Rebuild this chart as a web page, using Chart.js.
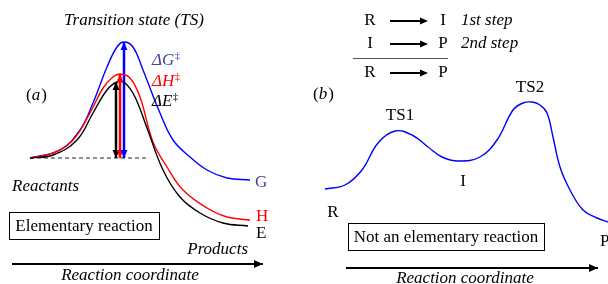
<!DOCTYPE html>
<html>
<head>
<meta charset="utf-8">
<script src="https://cdn.jsdelivr.net/npm/chart.js@4/dist/chart.umd.min.js"></script>
<style>
  html, body { margin: 0; padding: 0; background: #fff; }
  #wrap { position: relative; width: 608px; height: 284px; overflow: hidden; }
  canvas { position: absolute; top: 0; }
  #panelA { left: 0; }
  #panelB { left: 300px; }
</style>
</head>
<body>
<div id="wrap">
  <canvas id="panelA" width="300" height="284"></canvas>
  <canvas id="panelB" width="308" height="284"></canvas>
</div>
<script>
// Panel (a): one elementary step, energy relative to reactants
const coordG  = [0, 15, 25, 31.5, 38.5, 43.5, 47, 51.5, 56.5, 65, 71.5, 80, 88.5, 98.5, 110];
const energyG = [0, 8, 28, 55, 91, 111, 116, 111, 88, 45, 18, 1, -12, -20, -22];

const coordH  = [0, 11.5, 21.5, 30, 36.5, 41.5, 45, 50, 55, 61.5, 68.5, 76.5, 88.5, 98.5, 110];
const energyH = [0, 5, 18, 45, 70, 81, 84, 80, 61, 16, -9, -32, -50, -59, -62];

const coordE  = [0, 11.5, 23.5, 31.5, 38.5, 43.5, 47.5, 52.5, 58.5, 66.5, 75, 85, 96.5, 109];
const energyE = [0, 3, 18, 45, 68, 76, 75, 61, 30, -12, -39, -55, -65, -68];

// barrier heights (position on the coordinate, height)
const barrierCoord  = { E: 43, H: 45, G: 47 };
const barrierHeight = { E: 76, H: 84, G: 116 };

// Panel (b): two steps through intermediate I
const coordB  = [0, 10, 18.5, 26.5, 35, 43.5, 51.5, 58.5, 66.5, 77.5, 86, 94, 99, 103.5, 107.5, 111, 114, 117.5, 122.5, 129, 136, 141.5];
const energyB = [0, 4, 19, 46, 58, 54, 42, 32, 28, 32, 49, 79, 86, 87, 84, 76, 52, 22, -1, -21, -29, -33];

const serif = "'Liberation Serif', 'DejaVu Serif', serif";
const slate = '#4343a8';

function toXY(xs, ys) {
    return xs.map((x, i) => ({ x: x, y: ys[i] }));
}

function curve(xs, ys, color) {
    return {
        data: toXY(xs, ys),
        borderColor: color,
        borderWidth: 1.4,
        pointRadius: 0,
        tension: 0.4,
        fill: false
    };
}

function arrowLine(x0, y0, x1, y1, color, width, heads) {
    return {
        data: [{ x: x0, y: y0 }, { x: x1, y: y1 }],
        borderColor: color,
        borderWidth: width,
        pointRadius: 0,
        tension: 0,
        fill: false,
        arrowHeads: heads
    };
}

function head(ctx, tx, ty, fx, fy, len, half, color) {
    var a = Math.atan2(ty - fy, tx - fx);
    ctx.save();
    ctx.fillStyle = color;
    ctx.beginPath();
    ctx.moveTo(tx, ty);
    ctx.lineTo(tx - len * Math.cos(a) + half * Math.sin(a), ty - len * Math.sin(a) - half * Math.cos(a));
    ctx.lineTo(tx - len * Math.cos(a) - half * Math.sin(a), ty - len * Math.sin(a) + half * Math.cos(a));
    ctx.closePath();
    ctx.fill();
    ctx.restore();
}

// draws arrow heads on the datasets that ask for them
const arrowPlugin = {
    id: 'arrows',
    afterDatasetsDraw(chart) {
        const ctx = chart.ctx;
        chart.data.datasets.forEach((ds, i) => {
            if (!ds.arrowHeads) return;
            const pts = chart.getDatasetMeta(i).data;
            const p0 = pts[0], p1 = pts[pts.length - 1];
            const len = ds.borderWidth > 2.2 ? 8 : 9;
            const half = ds.borderWidth > 2.2 ? 3.5 : 4;
            head(ctx, p1.x, p1.y, p0.x, p0.y, len, half, ds.borderColor);
            if (ds.arrowHeads === 'both') head(ctx, p0.x, p0.y, p1.x, p1.y, len, half, ds.borderColor);
        });
    }
};

function txt(ctx, s, x, y, opts) {
    opts = opts || {};
    ctx.save();
    ctx.font = (opts.italic ? 'italic ' : '') + (opts.size || 17) + 'px ' + serif;
    ctx.fillStyle = opts.color || '#000';
    ctx.textAlign = opts.align || 'left';
    ctx.textBaseline = 'middle';
    ctx.fillText(s, x, y);
    var w = ctx.measureText(s).width;
    ctx.restore();
    return w;
}

// Δ symbol with a double dagger as superscript
function delta(ctx, letter, x, y, color) {
    var w = txt(ctx, '\u0394' + letter, x, y, { italic: true, color: color });
    txt(ctx, '\u2021', x + w + 0.5, y - 5, { size: 11, color: color });
}

function panelLabel(ctx, letter, x, y) {
    var w = txt(ctx, '(', x, y);
    w += txt(ctx, letter, x + w, y, { italic: true });
    txt(ctx, ')', x + w + 1, y);
}

function box(ctx, x, y, w, h, s) {
    ctx.save();
    ctx.strokeStyle = '#000';
    ctx.lineWidth = 1;
    ctx.strokeRect(x + 0.5, y + 0.5, w, h);
    ctx.restore();
    txt(ctx, s, x + w / 2, y + h / 2 + 1, { align: 'center' });
}

function stepArrow(ctx, x0, x1, y) {
    ctx.save();
    ctx.strokeStyle = '#000';
    ctx.lineWidth = 2;
    ctx.beginPath();
    ctx.moveTo(x0, y);
    ctx.lineTo(x1 - 5, y);
    ctx.stroke();
    ctx.restore();
    head(ctx, x1, y, x0, y, 8, 3.5, '#000');
}

const labelsA = {
    id: 'labelsA',
    afterDraw(chart) {
        const ctx = chart.ctx;
        txt(ctx, 'Transition state (TS)', 134, 21, { italic: true, align: 'center' });
        panelLabel(ctx, 'a', 26, 96);
        delta(ctx, 'G', 152, 61, slate);
        delta(ctx, 'H', 152, 82, '#ff0000');
        delta(ctx, 'E', 152, 102, '#000');
        txt(ctx, 'Reactants', 12, 187, { italic: true });
        txt(ctx, 'G', 255, 183, { color: slate });
        txt(ctx, 'H', 256, 217, { color: '#ff0000' });
        txt(ctx, 'E', 256, 234);
        box(ctx, 9, 212, 150, 27, 'Elementary reaction');
        txt(ctx, 'Products', 248, 250, { italic: true, align: 'right' });
        txt(ctx, 'Reaction coordinate', 130, 276, { italic: true, align: 'center' });
    }
};

const labelsB = {
    id: 'labelsB',
    afterDraw(chart) {
        const ctx = chart.ctx;
        var rows = [['R', 'I', '1st step', 21], ['I', 'P', '2nd step', 44], ['R', 'P', '', 73]];
        rows.forEach(r => {
            txt(ctx, r[0], 70, r[3], { align: 'center' });
            stepArrow(ctx, 90, 128, r[3]);
            txt(ctx, r[1], 143, r[3], { align: 'center' });
            if (r[2]) txt(ctx, r[2], 161, r[3], { italic: true });
        });
        ctx.save();
        ctx.strokeStyle = '#555';
        ctx.lineWidth = 1;
        ctx.beginPath();
        ctx.moveTo(53, 58.5);
        ctx.lineTo(148, 58.5);
        ctx.stroke();
        ctx.restore();
        panelLabel(ctx, 'b', 13, 95);
        txt(ctx, 'TS1', 100, 116, { align: 'center' });
        txt(ctx, 'TS2', 230, 88, { align: 'center' });
        txt(ctx, 'I', 163, 182, { align: 'center' });
        txt(ctx, 'R', 33, 213, { align: 'center' });
        txt(ctx, 'P', 300, 242);
        box(ctx, 48, 223, 196, 27, 'Not an elementary reaction');
        txt(ctx, 'Reaction coordinate', 165, 279, { italic: true, align: 'center' });
    }
};

function baseOptions(xmin, xmax, ymin, ymax) {
    return {
        responsive: false,
        animation: false,
        layout: { padding: 0 },
        plugins: { legend: { display: false }, tooltip: { enabled: false } },
        scales: {
            x: { type: 'linear', min: xmin, max: xmax, display: false },
            y: { type: 'linear', min: ymin, max: ymax, display: false }
        }
    };
}

const dashed = {
    data: [{ x: 0, y: 0 }, { x: 59, y: 0 }],
    borderColor: '#222',
    borderWidth: 1,
    borderDash: [4, 3],
    pointRadius: 0
};

new Chart(document.getElementById('panelA'), {
    type: 'line',
    data: {
        datasets: [
            dashed,
            curve(coordE, energyE, '#000'),
            curve(coordH, energyH, '#ff0000'),
            curve(coordG, energyG, '#0000ff'),
            arrowLine(barrierCoord.E, 0, barrierCoord.E, barrierHeight.E, '#000', 2.5, 'both'),
            arrowLine(barrierCoord.H, 0, barrierCoord.H, barrierHeight.H, '#ff0000', 2.5, 'both'),
            arrowLine(barrierCoord.G, 0, barrierCoord.G, barrierHeight.G, '#0000ff', 2.5, 'both'),
            arrowLine(-9, -106, 116.5, -106, '#000', 2, 'end')
        ]
    },
    options: baseOptions(-15, 135, -126, 158),
    plugins: [arrowPlugin, labelsA]
});

new Chart(document.getElementById('panelB'), {
    type: 'line',
    data: {
        datasets: [
            curve(coordB, energyB, '#0000ff'),
            arrowLine(10.5, -79, 136.5, -79, '#000', 2, 'end')
        ]
    },
    options: baseOptions(-12.5, 141.5, -95, 189),
    plugins: [arrowPlugin, labelsB]
});
</script>
</body>
</html>
